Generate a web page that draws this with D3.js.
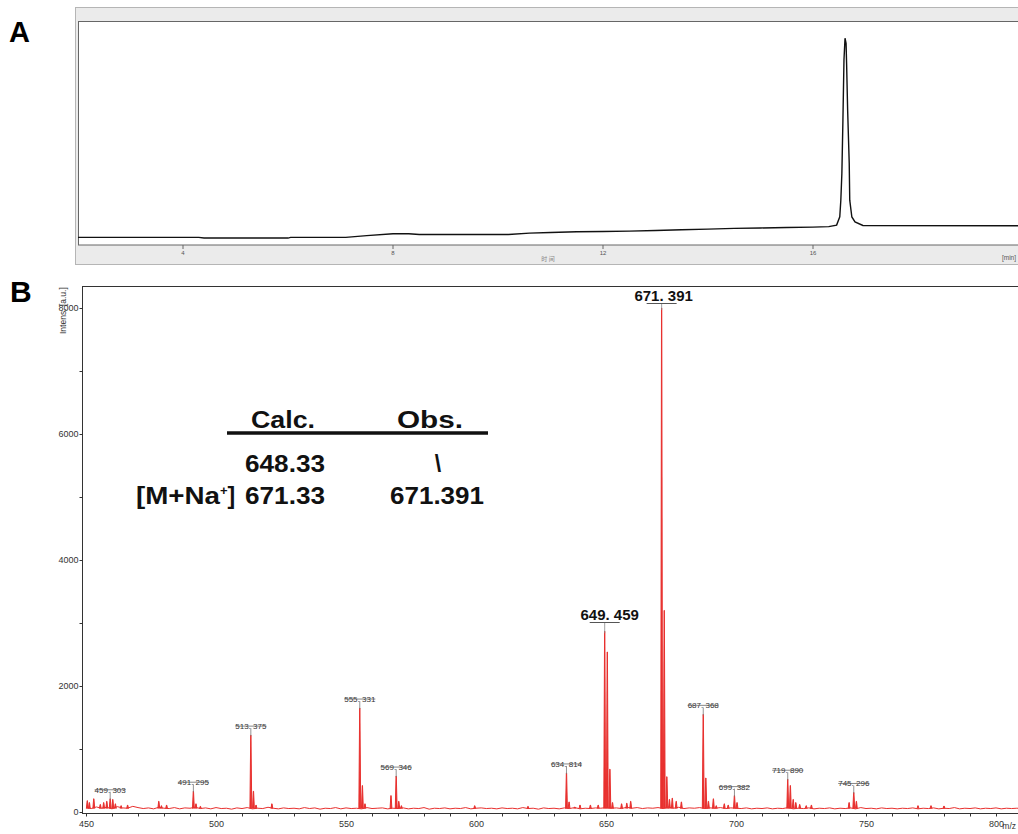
<!DOCTYPE html>
<html><head><meta charset="utf-8">
<script src="https://cdn.jsdelivr.net/npm/d3@7"></script>
<style>body{margin:0;background:#fff;}svg{display:block;font-family:Arial,"Liberation Sans",sans-serif;}</style>
</head><body>
<svg id="c" width="1018" height="834"></svg>
<script>
// ---------- Panel A: HPLC chromatogram (time in min, relative signal) ----------
const chromTime = [2.0,4.3,4.4,6.0,6.05,7.1,7.5,8.0,8.3,8.5,10.2,10.6,11.0,11.5,12.0,12.5,13.0,13.5,14.0,14.5,15.0,15.5,16.0,16.3,16.45,16.51,16.53,16.55,16.57,16.59,16.61,16.63,16.64,16.66,16.69,16.70,16.74,16.80,16.95,20.0];
const chromValue = [3.4,3.4,3.1,3.1,3.4,3.4,4.2,5.0,5.0,4.7,4.7,5.3,5.6,5.9,6.0,6.2,6.5,6.8,7.1,7.4,7.6,7.8,8.0,8.2,8.9,12.6,20,32,55.8,82.6,92.3,90,81,60,36.6,20,12.5,10.3,8.7,8.6];
const chromTicks = [4,8,12,16];

// ---------- Panel B: MALDI spectrum ----------
const noiseStart = 450, noiseStep = 2;
const noiseValues = [
70,55,80,60,75,50,85,65,60,90,70,55,65,50,75,60,55,70,50,65,
60,75,55,65,50,70,55,60,45,65,55,70,50,60,55,75,60,50,65,55,
60,50,70,55,65,45,60,55,70,50,65,55,60,50,70,55,60,65,50,60,
55,65,50,60,55,70,45,60,55,65,50,60,55,70,50,60,65,55,60,50,
65,55,60,50,70,55,60,45,65,55,60,50,65,55,70,50,60,55,65,60,
70,60,65,55,75,60,70,55,65,60,70,55,80,60,75,55,65,60,70,55,
65,60,70,55,65,60,55,65,50,60,55,65,50,60,55,70,50,60,55,65,
50,60,55,65,50,60,55,65,50,70,55,60,50,65,55,60,50,60,55,65,
50,60,55,65,50,60,55,70,50,60,55,65,50,60,55,65,50,60,55,60,
55,60,50];
const peakMz = [450.5,451.3,453.0,455.5,456.8,458.0,459.3,460.3,461.3,463.5,466,478.0,479,481,491.3,492.3,494,513.4,514.4,515.4,521.5,555.3,556.3,557.3,567.3,569.3,570.3,571.3,599.5,620,634.8,635.8,638,640,644,647,649.5,650.5,651.5,652.5,656,658,659.5,671.4,672.4,673.4,674.4,675.5,677,679,687.4,688.4,689.4,691.3,692.4,695.5,697,699.4,700.4,719.9,720.9,722,723,724.5,727,729,743.5,745.3,746.3,770,775,780];
const peakIntensity = [180,150,210,120,150,170,210,200,130,100,110,170,100,110,330,130,90,1220,330,110,130,1650,420,130,260,570,170,100,100,90,620,160,80,110,110,110,2870,2540,680,150,130,140,170,8000,3200,560,200,220,170,160,1550,540,170,210,100,130,110,260,150,520,420,200,150,120,100,110,150,310,170,100,100,95];
const smallLabels = ["459. 303","491. 295","513. 375","555. 331","569. 346","634. 814","687. 368","699. 382","719. 890","745. 296"];
const smallLabelMz = [459.3,491.3,513.4,555.3,569.3,634.8,687.4,699.4,719.9,745.3];
const smallLabelInt = [210,330,1220,1650,570,620,1550,260,520,310];
const bigLabels = ["671. 391","649. 459"];
const bigLabelMz = [671.4,649.5];
const bigLabelInt = [8000,2870];
const yTicks = [0,2000,4000,6000,8000];
const xTicks = [450,500,550,600,650,700,750,800];

// Table
const tableHead = ["Calc.","Obs."];
const tableRows = [["","648.33","\\"],["[M+Na⁺]","671.33","671.391"]];

const svg = d3.select("#c");

// ---------- Panel labels ----------
svg.append("text").attr("x",9).attr("y",42).attr("font-size",29).attr("font-weight","bold").text("A");
svg.append("text").attr("x",10).attr("y",302).attr("font-size",30).attr("font-weight","bold").text("B");

// ---------- Panel A ----------
svg.append("rect").attr("x",75.5).attr("y",7.5).attr("width",960).attr("height",257).attr("fill","#ebebeb").attr("stroke","#b5b5b5");
svg.append("rect").attr("x",78.5).attr("y",21.5).attr("width",960).attr("height",223.5).attr("fill","#fff").attr("stroke","#666");
const xA = d3.scaleLinear().domain([4,16]).range([183,813]);
const yA = d3.scaleLinear().domain([0,100]).range([245,21]);
const gA = svg.append("g");
gA.selectAll("line.tk").data(chromTicks).join("line")
  .attr("x1",d=>xA(d)).attr("x2",d=>xA(d)).attr("y1",245).attr("y2",249).attr("stroke","#666");
gA.selectAll("text.tk").data(chromTicks).join("text")
  .attr("x",d=>xA(d)).attr("y",255).attr("text-anchor","middle").attr("font-size",6).attr("fill","#555").text(d=>d);
svg.append("text").attr("x",548).attr("y",261).attr("text-anchor","middle").attr("font-size",6).attr("fill","#888")
  .attr("font-family","'Noto Sans CJK SC',sans-serif").text("时 间");
svg.append("text").attr("x",1016).attr("y",260).attr("text-anchor","end").attr("font-size",6.5).attr("fill","#555").text("[min]");
const lineA = d3.line().x((d,i)=>xA(chromTime[i])).y(d=>yA(d));
svg.append("path").datum(chromValue).attr("d",lineA).attr("fill","none").attr("stroke","#111").attr("stroke-width",1.4);

// ---------- Panel B ----------
const x = d3.scaleLinear().domain([450,800]).range([86,996]);
const y = d3.scaleLinear().domain([0,8000]).range([812,308]);
svg.append("line").attr("x1",82).attr("x2",1018).attr("y1",286.5).attr("y2",286.5).attr("stroke","#333");
svg.append("line").attr("x1",82.5).attr("x2",82.5).attr("y1",286).attr("y2",813).attr("stroke","#333");
svg.append("line").attr("x1",82).attr("x2",1018).attr("y1",813.5).attr("y2",813.5).attr("stroke","#333");

const yAxis = d3.axisLeft(y).tickValues(d3.range(0,8001,1000)).tickSize(3)
  .tickFormat(d=>yTicks.includes(d)?d:"");
const gy = svg.append("g").attr("transform","translate(82.5,0)").call(yAxis);
gy.select(".domain").remove();
gy.selectAll("text").attr("font-size",9).attr("fill","#333").attr("x",-4).attr("font-family","Arial,'Liberation Sans',sans-serif");
gy.selectAll("line").attr("stroke","#333");

const xAxis = d3.axisBottom(x).tickValues(d3.range(450,811,10)).tickSize(3)
  .tickFormat(d=>xTicks.includes(d)?d:"");
const gx = svg.append("g").attr("transform","translate(0,813.5)").call(xAxis);
gx.select(".domain").remove();
gx.selectAll("text").attr("font-size",9).attr("fill","#333").attr("y",7).attr("font-family","Arial,'Liberation Sans',sans-serif");
gx.selectAll("line").attr("stroke","#333");
svg.append("text").attr("x",1016).attr("y",829).attr("text-anchor","end").attr("font-size",8.5).attr("fill","#333").text("m/z");

svg.append("text").attr("transform","translate(66,334) rotate(-90)").attr("font-size",8.5).attr("fill","#333").text("Intens. [a.u.]");

// spectrum noise
const noiseLine = d3.line().x((d,i)=>x(noiseStart+i*noiseStep)).y(d=>y(d));
svg.append("path").datum(noiseValues).attr("d",noiseLine).attr("fill","none").attr("stroke","#e8302e").attr("stroke-width",1);
// peaks
const peakPath = (mz,h)=>{
  const b = 55;
  return d3.line()([[x(mz-0.35),y(b)],[x(mz-0.05),y(h)],[x(mz+0.05),y(h)],[x(mz+0.35),y(b)]]);
};
svg.append("g").selectAll("path").data(peakMz).join("path")
  .attr("d",(d,i)=>peakPath(d,peakIntensity[i])).attr("fill","#e8302e").attr("stroke","#e8302e").attr("stroke-width",1);

// small labels
const gl = svg.append("g");
smallLabels.forEach((t,i)=>{
  const px = x(smallLabelMz[i]), py = y(smallLabelInt[i]);
  gl.append("line").attr("x1",px).attr("x2",px).attr("y1",py-7).attr("y2",py+1).attr("stroke","#777").attr("stroke-width",0.8);
  const tx = gl.append("text").attr("x",px).attr("y",py-6).attr("text-anchor","middle").attr("font-size",8).attr("fill","#333").text(t);
  const w = tx.node().getComputedTextLength();
  gl.append("line").attr("x1",px-w/2).attr("x2",px+w/2).attr("y1",py-9).attr("y2",py-9).attr("stroke","#555").attr("stroke-width",0.7);
});
// big labels
bigLabels.forEach((t,i)=>{
  const px = x(bigLabelMz[i]), py = y(bigLabelInt[i]);
  const ty = i===0 ? 301 : 620;
  gl.append("line").attr("x1",px).attr("x2",px).attr("y1",ty+2).attr("y2",py+2).attr("stroke","#888").attr("stroke-width",0.8);
  gl.append("text").attr("x",px+(i===0?2:5)).attr("y",ty).attr("text-anchor","middle").attr("font-size",15).attr("font-weight","bold").attr("fill","#111").text(t);
  gl.append("line").attr("x1",px-15).attr("x2",px+15).attr("y1",ty+2.5).attr("y2",ty+2.5).attr("stroke","#555").attr("stroke-width",1);
});

// ---------- Table ----------
const gt = svg.append("g").attr("font-weight","bold").attr("fill","#111");
const fit = (sel,len)=>sel.attr("textLength",len).attr("lengthAdjust","spacingAndGlyphs");
fit(gt.append("text").attr("x",251).attr("y",428).attr("font-size",23).text(tableHead[0]),64);
fit(gt.append("text").attr("x",397).attr("y",428).attr("font-size",23).text(tableHead[1]),66);
gt.append("line").attr("x1",227).attr("x2",488).attr("y1",433).attr("y2",433).attr("stroke","#111").attr("stroke-width",3.5);
const rowY = [472,504];
tableRows.forEach((r,i)=>{
  if(r[0]){
    const t = gt.append("text").attr("x",136).attr("y",rowY[i]).attr("font-size",23);
    t.append("tspan").attr("textLength",84).attr("lengthAdjust","spacingAndGlyphs").text("[M+Na");
    t.append("tspan").attr("font-size",13).attr("dy",-9).text("+");
    t.append("tspan").attr("dy",9).text("]");
  }
  fit(gt.append("text").attr("x",245).attr("y",rowY[i]).attr("font-size",23).text(r[1]),80);
  if(i===0){
    gt.append("text").attr("x",438).attr("y",rowY[i]).attr("text-anchor","middle").attr("font-size",23).text(r[2]);
  } else {
    fit(gt.append("text").attr("x",390).attr("y",rowY[i]).attr("font-size",23).text(r[2]),94);
  }
});
</script>
</body></html>
